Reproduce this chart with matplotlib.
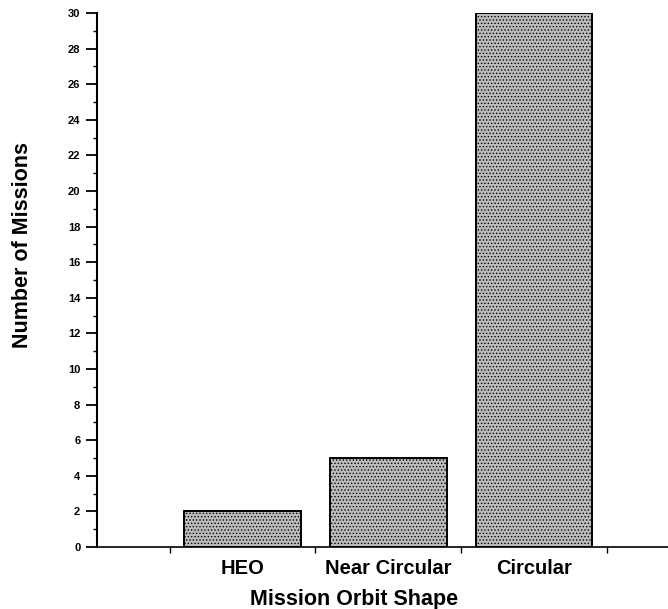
import matplotlib
matplotlib.use("Agg")
import matplotlib.pyplot as plt
from matplotlib.ticker import MultipleLocator, FixedLocator

categories = ["HEO", "Near Circular", "Circular"]
missions = [2, 5, 30]
positions = [1, 2, 3]
boundaries = [0.5, 1.5, 2.5, 3.5]

plt.rcParams['font.family'] = ['Liberation Sans', 'DejaVu Sans']
plt.rcParams['hatch.color'] = '#505050'
plt.rcParams['hatch.linewidth'] = 0.6

W, H = 668, 609
fig = plt.figure(figsize=(W / 100, H / 100), dpi=100)
ax = fig.add_axes([97 / W, 1 - 547 / H, 1 - 97 / W, (547 - 13) / H])

ax.bar(positions, missions, width=0.8, color='#bcbcbc', edgecolor='black',
       linewidth=1.4, hatch='.....', zorder=2)

ax.set_xlim(0, 3.92)
ax.set_ylim(0, 30)

ax.spines['top'].set_visible(False)
ax.spines['right'].set_visible(False)
ax.spines['left'].set_linewidth(1.5)
ax.spines['bottom'].set_linewidth(1.2)

ax.yaxis.set_major_locator(MultipleLocator(2))
ax.yaxis.set_minor_locator(MultipleLocator(1))
ax.tick_params(axis='y', which='major', length=8, width=1.3, labelsize=8, pad=4)
ax.tick_params(axis='y', which='minor', length=3, width=1)
for lbl in ax.get_yticklabels():
    lbl.set_fontweight('bold')

ax.set_xticks(positions)
ax.set_xticklabels(categories)
ax.xaxis.set_minor_locator(FixedLocator(boundaries))
ax.tick_params(axis='x', which='major', length=0, labelsize=14.5, pad=9)
ax.tick_params(axis='x', which='minor', length=4, width=1)
for lbl in ax.get_xticklabels():
    lbl.set_fontweight('bold')

# axis titles sit off-centre in the original
fig.text(354 / W, 1 - 605 / H, "Mission Orbit Shape", fontsize=15.5,
         fontweight='bold', ha='center', va='baseline')
fig.text(22.5 / W, 1 - 245 / H, "Number of Missions", fontsize=15.5,
         fontweight='bold', ha='center', va='center', rotation=90)

fig.savefig("out.png", dpi=100)
